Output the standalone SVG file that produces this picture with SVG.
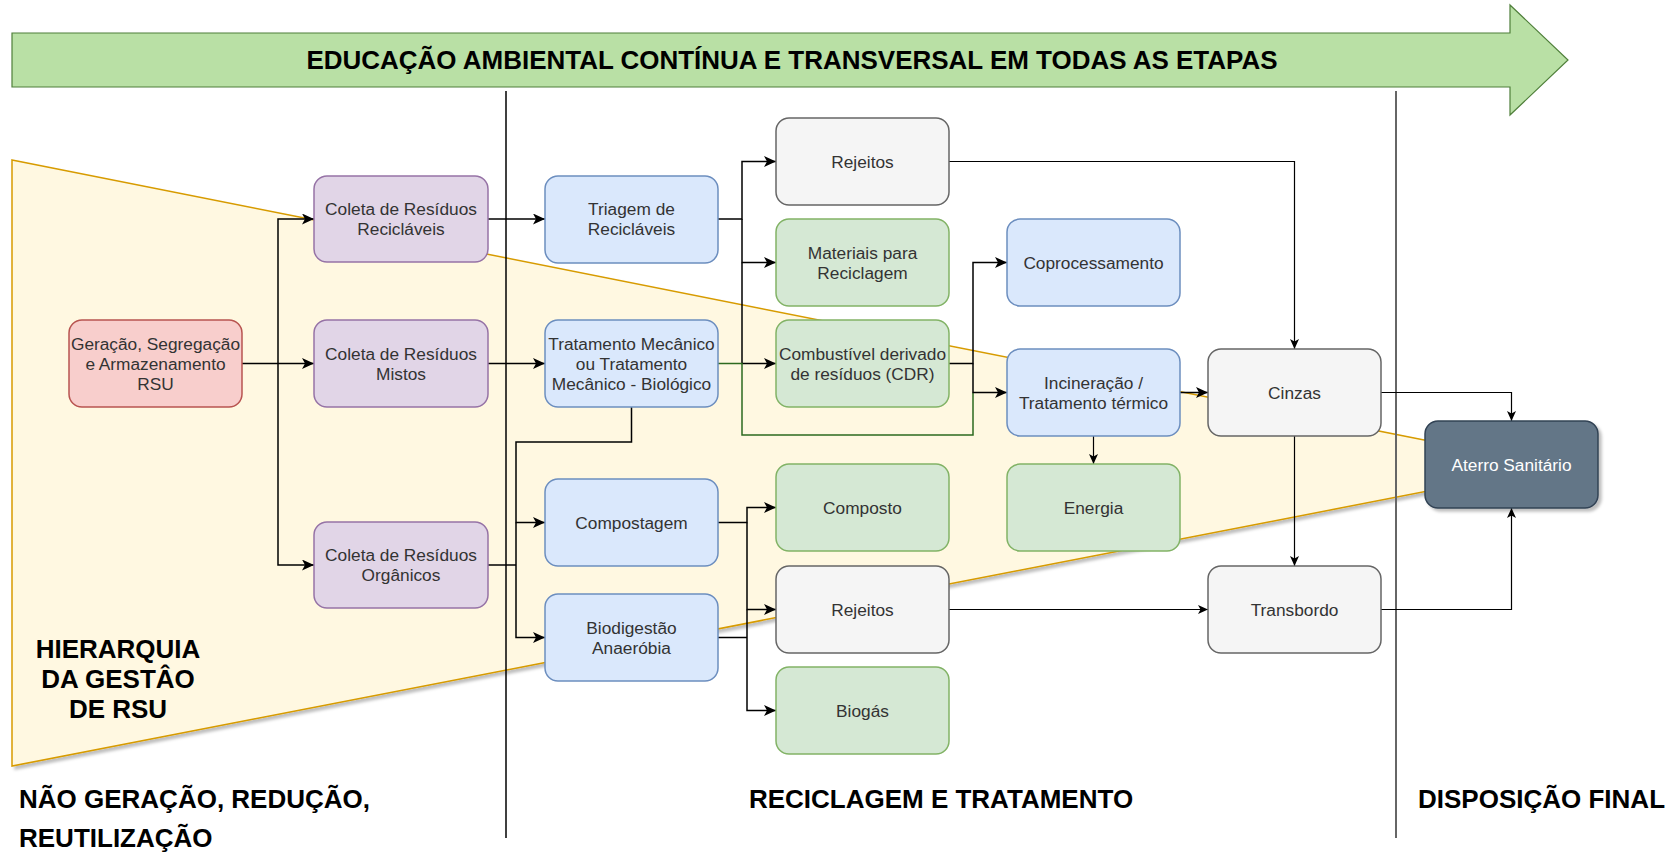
<svg xmlns="http://www.w3.org/2000/svg" width="1674" height="854" viewBox="0 0 1674 854">
<defs>
<style>
.n rect{stroke-width:1.5}
.red rect{fill:#f8cecc;stroke:#b85450}
.pur rect{fill:#e1d5e7;stroke:#9673a6}
.blu rect{fill:#dae8fc;stroke:#6c8ebf}
.grn rect{fill:#d5e8d4;stroke:#82b366}
.gry rect{fill:#f5f5f5;stroke:#666666}
.drk rect{fill:#647687;stroke:#314354}
.n text{font-family:"Liberation Sans",Arial,sans-serif;font-size:17.3px;fill:#333333;text-anchor:middle}
.drk text{fill:#ffffff}
.big{font-family:"Liberation Sans",Arial,sans-serif;font-weight:bold;font-size:26px;fill:#000000}
.c path{fill:none;stroke:#000000;stroke-width:1.5}
.c path.t{stroke-width:1.2}
.c path.g{stroke:#2d6a1f}
</style>
<marker id="a" viewBox="0 0 12 11" refX="12" refY="5.5" markerWidth="12" markerHeight="11" markerUnits="userSpaceOnUse" orient="auto">
<path d="M0,0 L12,5.5 L0,11 L3,5.5 Z" fill="#000000"/>
</marker>
<marker id="s" viewBox="0 0 10 9" refX="10" refY="4.5" markerWidth="10" markerHeight="9" markerUnits="userSpaceOnUse" orient="auto">
<path d="M0,0 L10,4.5 L0,9 L2.5,4.5 Z" fill="#000000"/>
</marker>
<filter id="sh" x="-5%" y="-5%" width="115%" height="120%">
<feDropShadow dx="3" dy="3" stdDeviation="1.5" flood-color="#000000" flood-opacity="0.25"/>
</filter>
</defs>

<g id="banner">
<polygon points="12,33 1510,33 1510,5 1568,60 1510,115 1510,87 12,87" fill="#b9e0a5" stroke="#4f7f3a" stroke-width="1.2"/>
<text class="big" x="792" y="69" text-anchor="middle" textLength="971" lengthAdjust="spacingAndGlyphs">EDUCAÇÃO AMBIENTAL CONTÍNUA E TRANSVERSAL EM TODAS AS ETAPAS</text>
</g>

<g id="hierarquia">
<polygon points="12,160 1500,455 1500,477 12,766" fill="#fff8e1" stroke="#d79b00" stroke-width="1.5" filter="url(#sh)"/>
<text class="big" text-anchor="middle"><tspan x="118" y="658">HIERARQUIA</tspan><tspan x="118" y="688">DA GESTÂO</tspan><tspan x="118" y="718">DE RSU</tspan></text>
</g>

<g id="dividers">
<line x1="506" y1="91" x2="506" y2="838" stroke="#000000" stroke-width="1.5"/>
<line x1="1396" y1="91" x2="1396" y2="838" stroke="#666666" stroke-width="2"/>
</g>

<g id="labels">
<text class="big" x="19" y="808">NÃO GERAÇÃO, REDUÇÃO,</text>
<text class="big" x="19" y="847">REUTILIZAÇÃO</text>
<text class="big" x="941" y="808" text-anchor="middle">RECICLAGEM E TRATAMENTO</text>
<text class="big" x="1418" y="808">DISPOSIÇÃO FINAL</text>
</g>

<g id="connectors" class="c">
<path d="M242,363.5 H314" marker-end="url(#a)"/>
<path d="M278,363.5 V219 H314" marker-end="url(#a)"/>
<path d="M278,363.5 V565 H314" marker-end="url(#a)"/>
<path d="M488,219 H545" marker-end="url(#a)"/>
<path d="M488,363.5 H545" marker-end="url(#a)"/>
<path d="M488,565 H516"/>
<path d="M631.5,407 V442 H516 V522.5 H545" marker-end="url(#a)"/>
<path d="M516,522.5 V637.5 H545" marker-end="url(#a)"/>
<path d="M718,219 H742 V161.5 H776" marker-end="url(#a)"/>
<path d="M742,219 V262.5 H776" marker-end="url(#a)"/>
<path d="M742,262.5 V363.5 H776" marker-end="url(#a)"/>
<path class="g" d="M718,363.5 H742 V435 H973 V392.5"/>
<path d="M949,363.5 H973 V262.5 H1007" marker-end="url(#a)"/>
<path d="M973,363.5 V392.5 H1007" marker-end="url(#a)"/>
<path d="M718,522.5 H747 V507.5 H776" marker-end="url(#a)"/>
<path d="M747,522.5 V609.5 H776" marker-end="url(#a)"/>
<path d="M718,637.5 H747"/>
<path d="M747,609.5 V710.5 H776" marker-end="url(#a)"/>
<path class="t" d="M1093.5,436 V464" marker-end="url(#s)"/>
<path d="M1180,392.5 H1208" marker-end="url(#a)"/>
<path class="t" d="M949,161.5 H1294.5 V349" marker-end="url(#s)"/>
<path class="t" d="M1381,392.5 H1511.5 V421" marker-end="url(#s)"/>
<path class="t" d="M1294.5,436 V566" marker-end="url(#s)"/>
<path class="t" d="M949,609.5 H1208" marker-end="url(#s)"/>
<path class="t" d="M1381,609.5 H1511.5 V508" marker-end="url(#s)"/>
</g>

<g id="n-geracao" class="n red"><rect x="69" y="320" width="173" height="87" rx="13"/><text><tspan x="155.5" y="349.8">Geração, Segregação</tspan><tspan x="155.5" y="369.8">e Armazenamento</tspan><tspan x="155.5" y="389.8">RSU</tspan></text></g>
<g id="n-coleta-reciclaveis" class="n pur"><rect x="314" y="176" width="174" height="86" rx="13"/><text><tspan x="401" y="215.3">Coleta de Resíduos</tspan><tspan x="401" y="235.3">Recicláveis</tspan></text></g>
<g id="n-coleta-mistos" class="n pur"><rect x="314" y="320" width="174" height="87" rx="13"/><text><tspan x="401" y="359.8">Coleta de Resíduos</tspan><tspan x="401" y="379.8">Mistos</tspan></text></g>
<g id="n-coleta-organicos" class="n pur"><rect x="314" y="522" width="174" height="86" rx="13"/><text><tspan x="401" y="561.3">Coleta de Resíduos</tspan><tspan x="401" y="581.3">Orgânicos</tspan></text></g>
<g id="n-triagem" class="n blu"><rect x="545" y="176" width="173" height="87" rx="13"/><text><tspan x="631.5" y="215.3">Triagem de</tspan><tspan x="631.5" y="235.3">Recicláveis</tspan></text></g>
<g id="n-tmb" class="n blu"><rect x="545" y="320" width="173" height="87" rx="13"/><text><tspan x="631.5" y="349.8">Tratamento Mecânico</tspan><tspan x="631.5" y="369.8">ou Tratamento</tspan><tspan x="631.5" y="389.8">Mecânico - Biológico</tspan></text></g>
<g id="n-compostagem" class="n blu"><rect x="545" y="479" width="173" height="87" rx="13"/><text x="631.5" y="528.8">Compostagem</text></g>
<g id="n-biodigestao" class="n blu"><rect x="545" y="594" width="173" height="87" rx="13"/><text><tspan x="631.5" y="633.8">Biodigestão</tspan><tspan x="631.5" y="653.8">Anaeróbia</tspan></text></g>
<g id="n-rejeitos1" class="n gry"><rect x="776" y="118" width="173" height="87" rx="13"/><text x="862.5" y="167.8">Rejeitos</text></g>
<g id="n-materiais" class="n grn"><rect x="776" y="219" width="173" height="87" rx="13"/><text><tspan x="862.5" y="258.8">Materiais para</tspan><tspan x="862.5" y="278.8">Reciclagem</tspan></text></g>
<g id="n-cdr" class="n grn"><rect x="776" y="320" width="173" height="87" rx="13"/><text><tspan x="862.5" y="359.8">Combustível derivado</tspan><tspan x="862.5" y="379.8">de resíduos (CDR)</tspan></text></g>
<g id="n-composto" class="n grn"><rect x="776" y="464" width="173" height="87" rx="13"/><text x="862.5" y="513.8">Composto</text></g>
<g id="n-rejeitos2" class="n gry"><rect x="776" y="566" width="173" height="87" rx="13"/><text x="862.5" y="615.8">Rejeitos</text></g>
<g id="n-biogas" class="n grn"><rect x="776" y="667" width="173" height="87" rx="13"/><text x="862.5" y="716.8">Biogás</text></g>
<g id="n-coprocessamento" class="n blu"><rect x="1007" y="219" width="173" height="87" rx="13"/><text x="1093.5" y="268.8">Coprocessamento</text></g>
<g id="n-incineracao" class="n blu"><rect x="1007" y="349" width="173" height="87" rx="13"/><text><tspan x="1093.5" y="388.8">Incineração /</tspan><tspan x="1093.5" y="408.8">Tratamento térmico</tspan></text></g>
<g id="n-energia" class="n grn"><rect x="1007" y="464" width="173" height="87" rx="13"/><text x="1093.5" y="513.8">Energia</text></g>
<g id="n-cinzas" class="n gry"><rect x="1208" y="349" width="173" height="87" rx="13"/><text x="1294.5" y="398.8">Cinzas</text></g>
<g id="n-transbordo" class="n gry"><rect x="1208" y="566" width="173" height="87" rx="13"/><text x="1294.5" y="615.8">Transbordo</text></g>
<g id="n-aterro" class="n drk"><rect x="1425" y="421" width="173" height="87" rx="13" filter="url(#sh)"/><text x="1511.5" y="470.8">Aterro Sanitário</text></g>
</svg>
